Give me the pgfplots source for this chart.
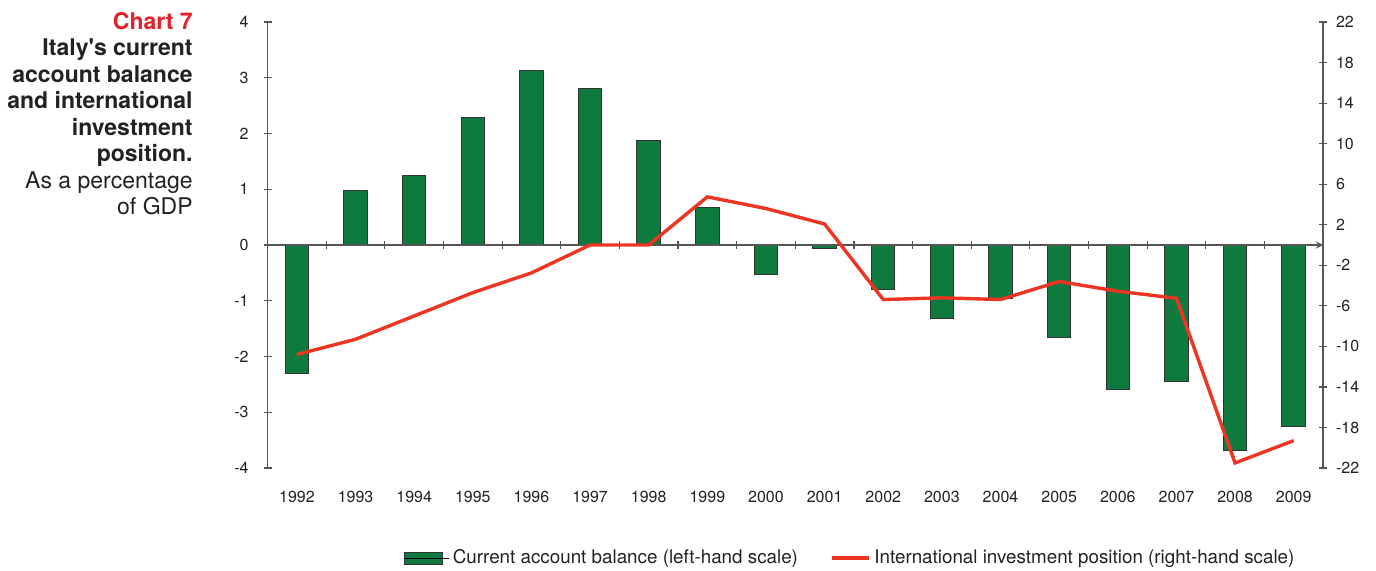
\documentclass[border=0pt]{standalone}
\usepackage{fontspec}
\setmainfont{TeX Gyre Heros}
\usepackage{pgfplots}
\pgfplotsset{compat=1.18}
\definecolor{barGreen}{HTML}{0F7A3E}
\definecolor{lineRed}{HTML}{EE3524}
\definecolor{titleRed}{HTML}{E5202A}
\definecolor{axisGray}{HTML}{555555}
\definecolor{txtGray}{HTML}{222222}
\pgfplotsset{
  common/.style={
    scale only axis, width=527.7pt, height=223pt,
    at={(133.8pt,51pt)}, anchor=south west,
    xmin=-0.5, xmax=17.5,
    /pgf/number format/assume math mode=true,
    tick label style={font=\fontsize{8}{9.6}\selectfont, text=txtGray},
    tick align=center, major tick length=4pt,
    every tick/.style={axisGray, line width=0.6pt},
    axis line style={-, draw=axisGray, line width=0.6pt},
  },
  barlegend/.style={legend image code/.code={\draw[fill=barGreen, draw=black!80, line width=0.5pt] (0pt,-3pt) rectangle (19pt,3pt);\path (0pt,0pt) -- (22pt,0pt);}},
  linelegend/.style={legend image code/.code={\draw[##1] (0pt,0pt) -- (18.5pt,0pt);}},
}
\begin{document}
\begin{tikzpicture}
\useasboundingbox (0,0) rectangle (688pt,285pt);
\node[anchor=north east, align=right, inner sep=0pt, text=txtGray,
      font=\fontsize{11.5}{13.25}\selectfont] at (96.5pt,279pt)
  {\textcolor{titleRed}{\textbf{Chart 7}}\\
   \textbf{Italy\textquotesingle s current}\\
   \textbf{account balance}\\
   \textbf{and international}\\
   \textbf{investment}\\
   \textbf{position.}\\
   As a percentage\\
   of GDP};
% bars
\begin{axis}[common, ymin=-4, ymax=4, ytick={-4,-3,-2,-1,0,1,2,3,4},
  axis y line*=left, axis x line*=bottom,
  x axis line style={draw=none}, xtick style={draw=none},
  xtick={0,1,2,3,4,5,6,7,8,9,10,11,12,13,14,15,16,17},
  xticklabels={1992,1993,1994,1995,1996,1997,1998,1999,2000,2001,2002,2003,2004,2005,2006,2007,2008,2009},
  xticklabel style={yshift=-6pt},
  yticklabel style={xshift=-4pt}]
\addplot[ybar, bar width=0.4, fill=barGreen, draw=black!80, line width=0.5pt] coordinates {
 (0,-2.31) (1,0.97) (2,1.24) (3,2.28) (4,3.13) (5,2.80) (6,1.87) (7,0.68)
 (8,-0.53) (9,-0.07) (10,-0.79) (11,-1.31) (12,-0.96) (13,-1.66) (14,-2.60)
 (15,-2.45) (16,-3.69) (17,-3.26)};
\end{axis}
% zero line with category ticks
\begin{axis}[common, ymin=-4, ymax=4, axis x line=middle, axis y line=none,
  xtick={-0.5,0.5,1.5,2.5,3.5,4.5,5.5,6.5,7.5,8.5,9.5,10.5,11.5,12.5,13.5,14.5,15.5,16.5,17.5},
  xticklabels={}]
\addplot[draw=none] coordinates {(0,0)};
\end{axis}
% line
\begin{axis}[common, ymin=-22, ymax=22, ytick={-22,-18,-14,-10,-6,-2,2,6,10,14,18,22},
  axis y line*=right, axis x line=none,
  yticklabel style={xshift=1pt},
  legend style={at={(0.553,-0.202)}, anchor=center, draw=none, fill=none,
    legend columns=2, font=\fontsize{9.4}{11}\selectfont, text=txtGray,
    /tikz/every even column/.append style={column sep=14pt}},
  legend cell align=left]
\addlegendimage{barlegend}
\addlegendentry{Current account balance (left-hand scale)}
\addplot[lineRed, line width=1.7pt, linelegend] coordinates {
 (0,-10.8) (1,-9.3) (2,-7.0) (3,-4.7) (4,-2.75) (5,0) (6,0) (7,4.75)
 (8,3.6) (9,2.07) (10,-5.38) (11,-5.21) (12,-5.38) (13,-3.6) (14,-4.56)
 (15,-5.25) (16,-21.5) (17,-19.3)};
\addlegendentry{International investment position (right-hand scale)}
\end{axis}
\end{tikzpicture}
\end{document}
